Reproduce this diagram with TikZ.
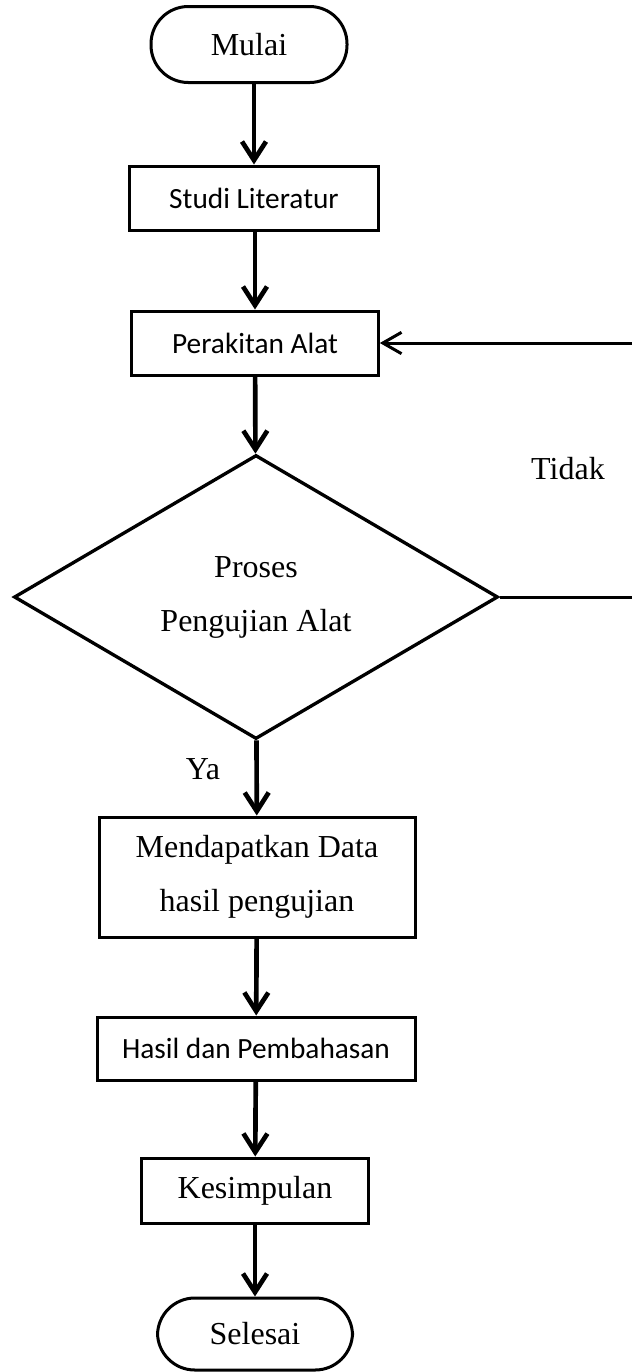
\documentclass[tikz,border=0pt]{standalone}
\usepackage{fontspec}
\setmainfont{Liberation Serif}
\newfontfamily\calibri{Carlito}
\usetikzlibrary{shapes.geometric,arrows.meta}

\begin{document}
\begin{tikzpicture}[x=0.75pt,y=-0.75pt,
        term/.style={draw,line width=2.25pt,rounded corners=28pt,minimum width=147pt,
            minimum height=57pt,font=\fontsize{24}{40.5}\selectfont},
        blok/.style={draw,line width=2.25pt,inner sep=0pt,align=center,
            font=\fontsize{24}{40.5}\selectfont},
        blokc/.style={blok,font=\calibri\fontsize{22}{26}\selectfont},
        cond/.style={diamond,draw,line width=2.5pt,inner sep=0pt,align=center,
            minimum width=363pt,minimum height=213pt,font=\fontsize{24}{40.5}\selectfont},
        lbl/.style={font=\fontsize{24}{28}\selectfont,inner sep=0pt},
        arr/.style={-{Straight Barb[length=14pt,width=18pt]},line width=3.5pt},
        balik/.style={-{Straight Barb[length=14pt,width=16pt]},line width=2.25pt}]
    \useasboundingbox (0,0) rectangle (632,1372);

    \node[term] (mulai) at (249,44.5) {Mulai};
    \node[blokc,minimum width=186.75pt,minimum height=48pt] (studi) at (254,198) {Studi Literatur};
    \node[blokc,minimum width=185pt,minimum height=48pt] (rakit) at (255,343) {Perakitan Alat};
    \node[cond] (uji) at (256,597) {Proses\\Pengujian Alat};
    \node[blok,minimum width=237pt,minimum height=90pt] (data) at (257,877) {Mendapatkan Data\\hasil pengujian};
    \node[blokc,minimum width=238.5pt,minimum height=47.25pt] (hasil) at (256,1048.5) {Hasil dan Pembahasan};
    \node[blok,minimum width=170.25pt,minimum height=48.75pt] (simpul) at (255,1190.5) {Kesimpulan};
    \node[term,minimum width=146.25pt,minimum height=54pt] (selesai) at (255,1334) {Selesai};

    \node[lbl] (ya) at (203,769.5) {Ya};
    \node[lbl] (tidak) at (568,469) {Tidak};
    \coordinate (luar) at (645,343);

    \draw[arr] (mulai.south -| studi.north) -- (studi.north);
    \draw[arr] (studi.south -| rakit.north) -- (rakit.north);
    \draw[arr] (rakit) -- (uji);
    \draw[arr] (uji) -- (data);
    \draw[arr] (data) -- (hasil);
    \draw[arr] (hasil) -- (simpul);
    \draw[arr] (simpul) -- (selesai);

    \draw[balik] (uji.east) -| (luar) -- (rakit.east);
\end{tikzpicture}
\end{document}
